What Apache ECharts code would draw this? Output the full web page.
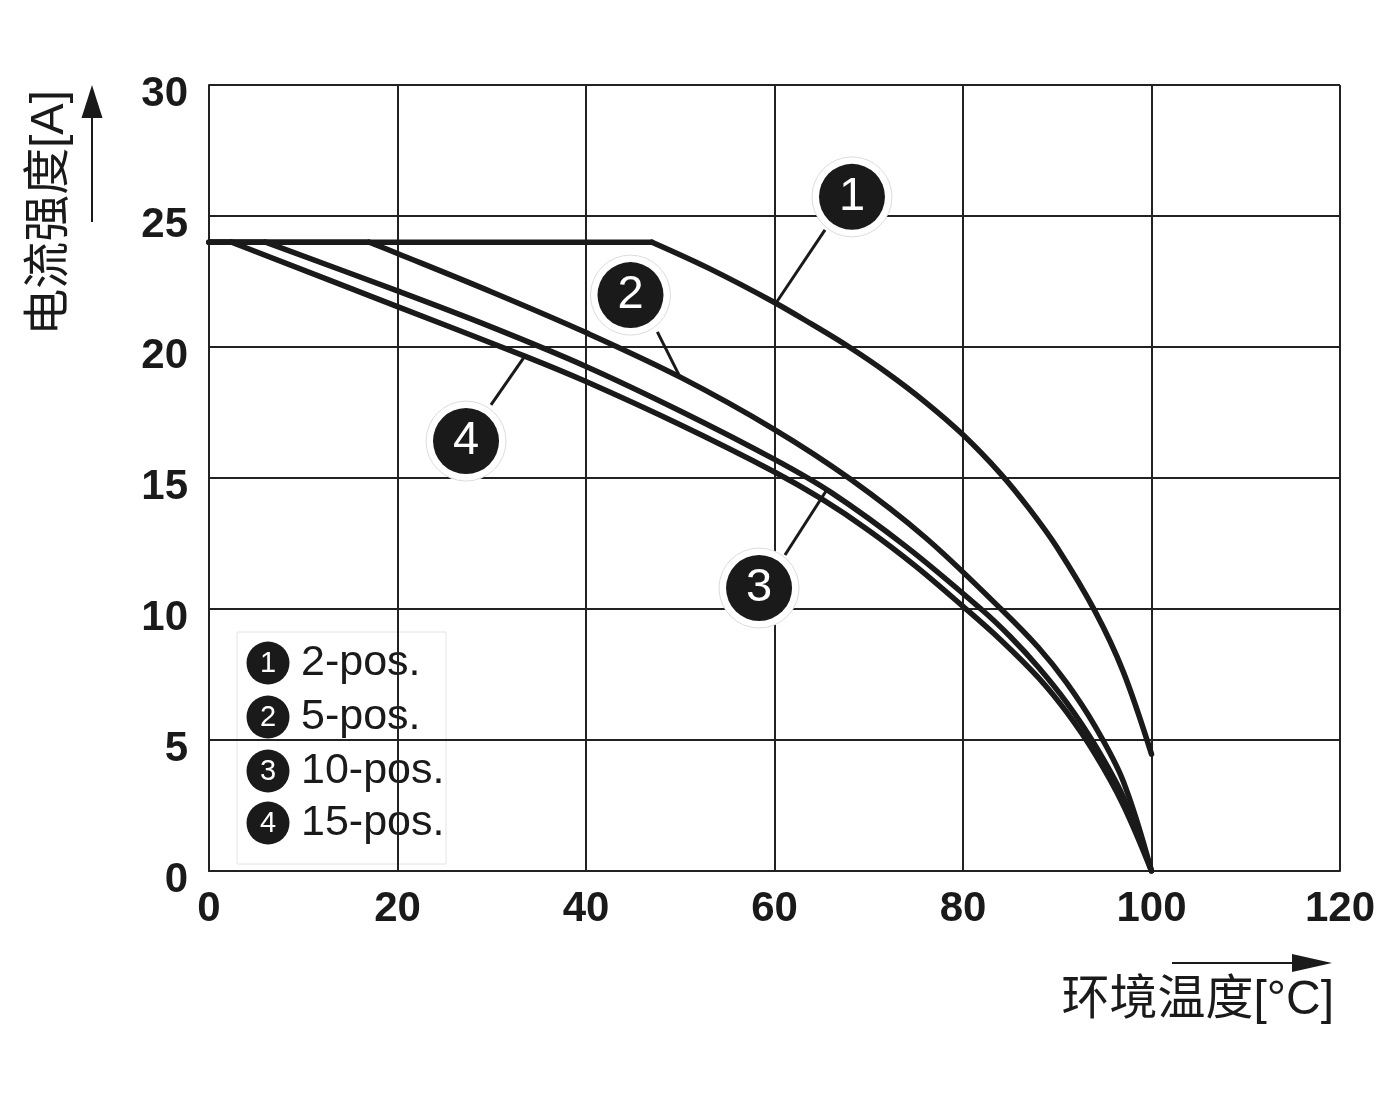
<!DOCTYPE html>
<html>
<head>
<meta charset="utf-8">
<script src="https://cdn.jsdelivr.net/npm/echarts@6/dist/echarts.min.js"></script>
<style>
html,body{margin:0;padding:0;background:#fff;}
#chart{width:1400px;height:1094px;}
</style>
</head>
<body>
<div id="chart"></div>
<script>
// ---- Data ----
const xTicks = [0, 20, 40, 60, 80, 100, 120];
const yTicks = [0, 5, 10, 15, 20, 25, 30];
const seriesNames = ['2-pos.', '5-pos.', '10-pos.', '15-pos.'];
const markerLabels = ['1', '2', '3', '4'];

// first two points of each curve = flat plateau, the rest = derating curve
const temps1 = [0, 47, 53, 60, 64, 68, 72, 76, 80, 84, 87, 90, 94, 97, 100];
const amps1  = [24, 24, 23.01, 21.7, 20.86, 19.98, 19.0, 17.9, 16.65, 15.16, 13.84, 12.34, 9.92, 7.61, 4.46];

const temps2 = [0, 17, 20, 30, 40, 50, 60, 68, 76, 84, 88, 91, 94, 97, 100];
const amps2  = [24, 24, 23.57, 22.1, 20.55, 18.85, 16.85, 14.97, 12.73, 10.01, 8.53, 7.18, 5.53, 3.43, 0];

const temps3 = [0, 6, 20, 30, 40, 50, 60, 66, 74, 82, 85, 88, 91, 94, 97, 100];
const amps3  = [24, 24, 22.14, 20.76, 19.26, 17.56, 15.71, 14.45, 12.37, 9.97, 8.95, 7.78, 6.43, 4.81, 2.83, 0];

const temps4 = [0, 2.4, 20, 33.5, 40, 50, 60, 65, 70, 75, 80, 84, 88, 91, 94, 97, 100];
const amps4  = [24, 24, 21.54, 19.65, 18.68, 17.03, 15.23, 14.2, 13.0, 11.63, 10.1, 8.82, 7.38, 6.06, 4.47, 2.52, 0];

// annotation callouts: circle centre and pointer [start, end] in data units
const calloutCentres = [[68.22, 25.73], [44.72, 21.98], [58.36, 10.80], [27.27, 16.41]];
const pointerStarts  = [[65.36, 24.47], [47.57, 20.58], [61.11, 12.06], [29.92, 17.79]];
const pointerEnds    = [[60.16, 21.68], [50.05, 18.8], [65.54, 14.54], [33.53, 19.66]];

// ---- Build ----
const INK = '#1a1a1a';
const FONT = '"Liberation Sans", Arial, "Noto Sans CJK SC", sans-serif';
const temps = [temps1, temps2, temps3, temps4];
const amps = [amps1, amps2, amps3, amps4];

function pairs(xs, ys) { return xs.map((x, i) => [x, ys[i]]); }
const lineStyle = { color: INK, width: 5.5, cap: 'round', join: 'round' };

const series = [];
seriesNames.forEach((name, i) => {
  const pts = pairs(temps[i], amps[i]);
  // plateau (straight)
  series.push({
    name: name, type: 'line', data: pts.slice(0, 2), smooth: false,
    symbol: 'none', silent: true, z: 3, lineStyle: lineStyle
  });
  // derating curve (smooth)
  series.push({
    name: name, type: 'line', data: pts.slice(1), smooth: 0.35,
    symbol: 'none', silent: true, z: 3, lineStyle: lineStyle,
    markLine: {
      silent: true,
      symbol: ['none', 'none'],
      label: { show: false },
      animation: false,
      lineStyle: { color: INK, width: 3, type: 'solid' },
      data: [[{ coord: pointerStarts[i] }, { coord: pointerEnds[i] }]]
    },
    markPoint: {
      silent: true,
      animation: false,
      data: [
        { coord: calloutCentres[i], symbol: 'circle', symbolSize: 80,
          itemStyle: { color: '#fff', borderColor: '#dcdcdc', borderWidth: 1 },
          label: { show: false } },
        { coord: calloutCentres[i], symbol: 'circle', symbolSize: 66,
          itemStyle: { color: INK },
          label: { show: true, position: 'inside', formatter: markerLabels[i],
                   color: '#fff', fontSize: 47, fontFamily: FONT } }
      ]
    }
  });
});

// legend graphic
const legendRows = [663, 717, 771, 823];
const legendChildren = [
  { type: 'rect', shape: { x: 237, y: 632, width: 209, height: 232 },
    style: { fill: '#fff', stroke: '#e4e4e4', lineWidth: 1 } }
];
seriesNames.forEach((n, i) => {
  legendChildren.push({ type: 'circle', shape: { cx: 268, cy: legendRows[i], r: 21.5 }, style: { fill: INK } });
  legendChildren.push({ type: 'text', x: 268, y: legendRows[i] + 1,
    style: { text: markerLabels[i], fill: '#fff', fontSize: 29, fontFamily: FONT, align: 'center', verticalAlign: 'middle' } });
  legendChildren.push({ type: 'text', x: 301, y: legendRows[i],
    style: { text: n, fill: INK, fontSize: 43, fontFamily: FONT, align: 'left', verticalAlign: 'middle' } });
});

const option = {
  animation: false,
  backgroundColor: '#fff',
  grid: { left: 209, top: 85, width: 1131, height: 786, containLabel: false },
  xAxis: {
    type: 'value', min: xTicks[0], max: xTicks[xTicks.length - 1], interval: 20,
    axisLine: { show: true, lineStyle: { color: '#222', width: 2 } },
    axisTick: { show: false },
    splitLine: { show: true, lineStyle: { color: '#222', width: 2 } },
    axisLabel: { color: INK, fontSize: 42, fontWeight: 'bold', fontFamily: FONT, margin: 17 }
  },
  yAxis: {
    type: 'value', min: yTicks[0], max: yTicks[yTicks.length - 1], interval: 5,
    axisLine: { show: true, lineStyle: { color: '#222', width: 2 } },
    axisTick: { show: false },
    splitLine: { show: true, lineStyle: { color: '#222', width: 2 } },
    axisLabel: { color: INK, fontSize: 42, fontWeight: 'bold', fontFamily: FONT, margin: 21,
                 verticalAlign: 'top', lineHeight: 18 }
  },
  graphic: [
    // y axis name
    { type: 'text', x: 50, y: 213, rotation: Math.PI / 2, z: 100,
      style: { text: '电流强度[A]', fill: INK, fontSize: 47, fontFamily: FONT, align: 'center', verticalAlign: 'middle' } },
    // y arrow
    { type: 'line', shape: { x1: 92, y1: 222, x2: 92, y2: 112 }, style: { stroke: INK, lineWidth: 2 }, z: 100 },
    { type: 'polygon', shape: { points: [[92, 85], [81.5, 118], [102.5, 118]] }, style: { fill: INK }, z: 100 },
    // x axis name
    { type: 'text', x: 1334, y: 1001, z: 100,
      style: { text: '环境温度[°C]', fill: INK, fontSize: 48, fontFamily: FONT, align: 'right', verticalAlign: 'middle' } },
    // x arrow
    { type: 'line', shape: { x1: 1172, y1: 963, x2: 1300, y2: 963 }, style: { stroke: INK, lineWidth: 2 }, z: 100 },
    { type: 'polygon', shape: { points: [[1332, 963], [1292, 954], [1292, 972]] }, style: { fill: INK }, z: 100 },
    // legend
    { type: 'group', z: 100, children: legendChildren }
  ],
  series: series
};

const chart = echarts.init(document.getElementById('chart'), null, { renderer: 'canvas' });
chart.setOption(option);
</script>
</body>
</html>
